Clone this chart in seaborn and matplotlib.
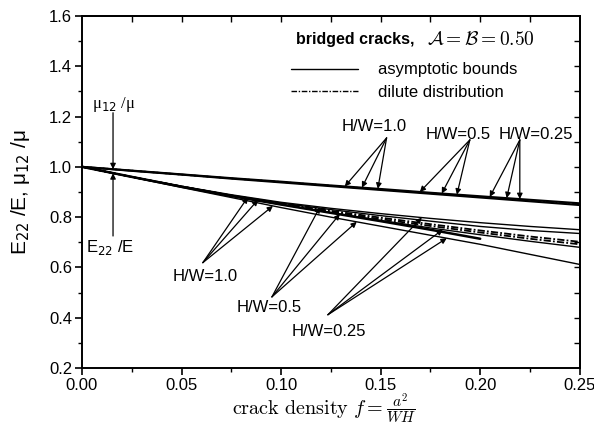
import numpy as np
import pandas as pd
import matplotlib
matplotlib.use("Agg")
import matplotlib.pyplot as plt
from matplotlib.lines import Line2D
import seaborn as sns

# ---------------- data ----------------
f_grid = [0.0, 0.025, 0.05, 0.075, 0.10, 0.125, 0.15, 0.175, 0.20, 0.225, 0.25]
f_short = [0.0, 0.025, 0.05, 0.075, 0.10, 0.125, 0.15, 0.175, 0.20]

# mu12/mu  (upper group)
mu_bound_hi = [1.0, 0.985, 0.970, 0.955, 0.941, 0.926, 0.912, 0.897, 0.883, 0.869, 0.855]
mu_bound_lo = [1.0, 0.984, 0.969, 0.953, 0.938, 0.923, 0.908, 0.893, 0.878, 0.863, 0.848]
mu_dilute   = [1.0, 0.985, 0.969, 0.954, 0.940, 0.925, 0.910, 0.895, 0.881, 0.866, 0.851]

# E22/E  (lower group)
e_bound_1 = [1.0, 0.960, 0.923, 0.889, 0.859, 0.835, 0.814, 0.795, 0.778, 0.763, 0.750]
e_bound_2 = [1.0, 0.960, 0.922, 0.887, 0.856, 0.830, 0.806, 0.784, 0.763, 0.747, 0.735]
e_dilute_1 = [1.0, 0.960, 0.922, 0.886, 0.854, 0.825, 0.798, 0.772, 0.747, 0.723, 0.702]
e_dilute_2 = [1.0, 0.960, 0.921, 0.885, 0.852, 0.821, 0.792, 0.765, 0.739, 0.714, 0.692]
e_bound_3 = [1.0, 0.960, 0.921, 0.884, 0.850, 0.818, 0.787, 0.757, 0.730, 0.704, 0.680]
e_bound_4 = [1.0, 0.959, 0.918, 0.878, 0.838, 0.800, 0.764, 0.728, 0.692, 0.652, 0.612]
e_short   = [1.0, 0.960, 0.921, 0.884, 0.850, 0.817, 0.784, 0.750, 0.714]

x_ticks = [0.00, 0.05, 0.10, 0.15, 0.20, 0.25]
x_ticklabels = ["0.00", "0.05", "0.10", "0.15", "0.20", "0.25"]
y_ticks = [0.2, 0.4, 0.6, 0.8, 1.0, 1.2, 1.4, 1.6]
y_ticklabels = ["0.2", "0.4", "0.6", "0.8", "1.0", "1.2", "1.4", "1.6"]

# annotation arrow targets (crack density where arrows hit curves)
up_hw10_f = [0.132, 0.1406, 0.1486]
up_hw05_f = [0.1697, 0.1807, 0.1883]
up_hw025_f = [0.2048, 0.2133, 0.2199]
lo_hw10_f = [0.0833, 0.0884, 0.0959]
lo_hw05_f = [0.1195, 0.1295, 0.138]
lo_hw025_f = [0.1707, 0.1812, 0.1832]

# ---------------- style ----------------
sns.set_theme(style="ticks")
plt.rcParams["font.family"] = ["Liberation Sans", "DejaVu Sans"]
plt.rcParams["axes.linewidth"] = 1.4
plt.rcParams["text.color"] = "black"
plt.rcParams["axes.labelcolor"] = "black"
plt.rcParams["xtick.color"] = "black"
plt.rcParams["ytick.color"] = "black"

fig = plt.figure(figsize=(5.94, 4.29), dpi=100)
ax = fig.add_axes([0.138, 0.142, 0.838, 0.821])

dd_style = (0, (4, 1.2, 1, 1.2))

def draw(x, y, lw=1.0, ls="-"):
    sns.lineplot(x=x, y=y, ax=ax, color="black", linewidth=lw, linestyle=ls,
                 estimator=None, sort=False, legend=False)

# upper group
draw(f_grid, mu_bound_hi, lw=1.5)
draw(f_grid, mu_bound_lo, lw=1.5)
draw(f_grid, mu_dilute, lw=1.2, ls=(0, (1, 1.5)))

# lower group
draw(f_grid, e_bound_1, lw=1.0)
draw(f_grid, e_bound_2, lw=1.0)
draw(f_grid, e_dilute_1, lw=1.3, ls=dd_style)
draw(f_grid, e_dilute_2, lw=1.3, ls=dd_style)
draw(f_grid, e_bound_3, lw=1.0)
draw(f_grid, e_bound_4, lw=1.0)
draw(f_short, e_short, lw=1.8)

ax.set_xlim(0.0, 0.25)
ax.set_ylim(0.2, 1.6)
ax.set_xticks(x_ticks)
ax.set_xticklabels(x_ticklabels)
ax.set_yticks(y_ticks)
ax.set_yticklabels(y_ticklabels)
ax.set_xticks(np.arange(0.025, 0.25, 0.05), minor=True)
ax.set_yticks(np.arange(0.3, 1.6, 0.2), minor=True)
ax.tick_params(axis="both", which="major", direction="out", length=5, width=1.2,
               labelsize=12, colors="black", pad=2)
ax.tick_params(axis="both", which="minor", direction="out", length=3, width=1.0)

# mirrored inward ticks on top and right
top = ax.secondary_xaxis("top")
top.set_xticks(np.arange(0.025, 0.25, 0.025))
top.tick_params(direction="in", length=4, width=1.0, labeltop=False)
right = ax.secondary_yaxis("right")
right.set_yticks(np.arange(0.3, 1.6, 0.1))
right.tick_params(direction="in", length=4, width=1.0, labelright=False)

for s in ax.spines.values():
    s.set_linewidth(1.4)
    s.set_color("black")

ax.set_ylabel("E$_{22}$ /E, μ$_{12}$ /μ", fontsize=15, labelpad=12,
              math_fontfamily="dejavusans")
ax.set_xlabel("")
# x label: "crack density f =" followed by a display-style fraction
fig.text(0.646, 0.036, r"$\mathrm{crack\ density}\ f=$", fontsize=14.5,
         ha="right", va="baseline", math_fontfamily="cm")
fig.text(0.650, 0.050, r"$\dfrac{a^2}{WH}$", fontsize=11,
         ha="left", va="center", math_fontfamily="cm")

# title text and legend
ax.text(0.1075, 1.505, "bridged cracks,", fontsize=11.5, fontweight="bold",
        ha="left", va="center")
ax.text(0.1735, 1.505, r"$\mathcal{A}=\mathcal{B}=0.50$", fontsize=14,
        ha="left", va="center", math_fontfamily="cm")
handles = [Line2D([], [], color="black", lw=1.0),
           Line2D([], [], color="black", lw=1.0, linestyle=dd_style)]
ax.legend(handles, ["asymptotic bounds", "dilute distribution"], loc="upper left",
          bbox_to_anchor=(0.42, 0.868), frameon=False, fontsize=12,
          handlelength=4.0, handletextpad=1.2, borderpad=0, borderaxespad=0,
          labelspacing=0.45)

arrow_kw = dict(arrowstyle="-|>", color="black", lw=0.9, mutation_scale=8,
                shrinkA=0, shrinkB=0)

# mu12/mu and E22/E markers
ax.text(0.016, 1.246, "μ$_{12}$ /μ", fontsize=12, ha="center", va="center",
        family=["Liberation Serif", "DejaVu Serif"], math_fontfamily="dejavusans")
ax.annotate("", xy=(0.0156, np.interp(0.0156, f_grid, mu_bound_hi)),
            xytext=(0.0156, 1.215), arrowprops=arrow_kw)
ax.text(0.014, 0.678, "E$_{22}$ /E", fontsize=12, ha="center", va="center",
        math_fontfamily="dejavusans")
ax.annotate("", xy=(0.0156, np.interp(0.0156, f_grid, e_bound_4)),
            xytext=(0.0156, 0.725), arrowprops=arrow_kw)

def group(label, text_xy, origin, targets, curves):
    ax.text(text_xy[0], text_xy[1], label, fontsize=12, ha="center", va="center")
    for fx, cur in zip(targets, curves):
        ax.annotate("", xy=(fx, np.interp(fx, f_grid, cur)), xytext=origin,
                    arrowprops=arrow_kw)

up = [mu_bound_hi, mu_bound_hi, mu_bound_hi]
group("H/W=1.0", (0.1466, 1.159), (0.153, 1.115), up_hw10_f, up)
group("H/W=0.5", (0.189, 1.127), (0.1948, 1.107), up_hw05_f, up)
group("H/W=0.25", (0.228, 1.127), (0.2199, 1.107), up_hw025_f, up)

group("H/W=1.0", (0.0621, 0.564), (0.0607, 0.619), lo_hw10_f,
      [e_bound_1, e_dilute_1, e_bound_4])
group("H/W=0.5", (0.0939, 0.44), (0.0954, 0.483), lo_hw05_f,
      [e_bound_1, e_bound_3, e_bound_4])
group("H/W=0.25", (0.124, 0.344), (0.1235, 0.412), lo_hw025_f,
      [e_bound_1, e_bound_3, e_bound_4])

fig.savefig("out.png", dpi=100)
